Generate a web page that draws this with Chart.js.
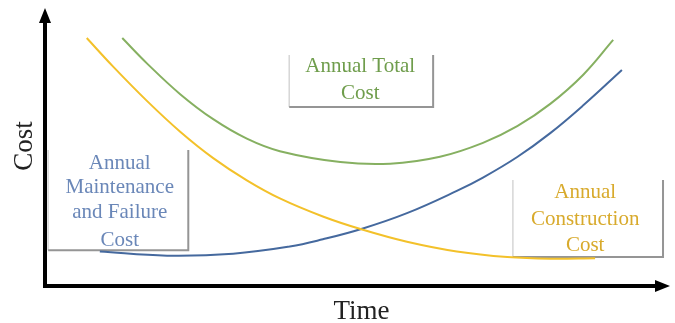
<!DOCTYPE html>
<html>
<head>
<meta charset="utf-8">
<script src="https://cdn.jsdelivr.net/npm/chart.js@4"></script>
<style>
  html, body { margin: 0; padding: 0; background: #fff; }
  #wrap { width: 675px; height: 323px; }
</style>
</head>
<body>
<div id="wrap"><canvas id="cost-chart" width="675" height="323"></canvas></div>
<script>
// Life-cycle cost curves (time and cost in relative units, 0-100)
const constructionTime = [6.7, 10.9, 16.4, 21.7, 27.0, 32.4, 37.7, 44.6, 50.9, 58.1, 66.1, 74.2, 81.1, 88.3];
const constructionCost = [89.2, 79.0, 66.5, 55.5, 46.0, 38.0, 31.5, 25.0, 20.3, 15.9, 12.4, 10.4, 9.8, 10.0];

const maintenanceTime = [8.8, 19.6, 30.2, 39.3, 44.6, 50.9, 58.1, 66.1, 70.3, 75.8, 81.1, 86.4, 92.6];
const maintenanceCost = [12.4, 10.9, 11.6, 14.2, 16.8, 20.6, 26.2, 34.2, 39.0, 46.4, 55.0, 65.0, 77.7];

const totalTime = [12.4, 16.4, 21.7, 27.0, 32.4, 37.7, 47.4, 55.4, 63.4, 70.3, 75.8, 81.1, 86.4, 91.2];
const totalCost = [89.2, 80.0, 69.0, 60.0, 53.0, 48.5, 44.6, 44.0, 46.5, 51.5, 57.5, 65.5, 76.0, 88.5];

const axisTitles = { x: 'Time', y: 'Cost' };

const toPoints = (xs, ys) => xs.map((x, i) => ({ x: x, y: ys[i] }));

const SERIF = '"Liberation Serif", "DejaVu Serif", serif';

// Callout boxes, placed in data units
const callouts = [
  {
    lines: ['Annual Total', 'Cost'], color: '#6f9d4c',
    box: { x0: 39.2, x1: 62.3, y0: 83.1, y1: 64.4 },
    text: { x: 50.6, y: [79.0, 69.3] }
  },
  {
    lines: ['Annual', 'Maintenance', 'and Failure', 'Cost'], color: '#6a87b8',
    box: { x0: 0.5, x1: 23.0, y0: 48.9, y1: 12.9 },
    text: { x: 12.0, y: [44.2, 35.6, 26.3, 16.5] }
  },
  {
    lines: ['Annual', 'Construction', 'Cost'], color: '#d8aa2c',
    box: { x0: 75.1, x1: 99.2, y0: 38.1, y1: 10.4 },
    text: { x: 86.7, y: [33.8, 24.1, 14.4] }
  }
];

const calloutPlugin = {
  id: 'callouts',
  beforeDatasetsDraw(chart) {
    const { ctx, scales: { x, y } } = chart;
    ctx.save();
    callouts.forEach(c => {
      const l = x.getPixelForValue(c.box.x0), r = x.getPixelForValue(c.box.x1);
      const t = y.getPixelForValue(c.box.y0), b = y.getPixelForValue(c.box.y1);
      ctx.fillStyle = '#ffffff';
      ctx.fillRect(l, t, r - l, b - t);
      // light left edge, darker right and bottom edges
      ctx.lineWidth = 1.5;
      ctx.strokeStyle = '#d6d6d6';
      ctx.beginPath(); ctx.moveTo(l, t); ctx.lineTo(l, b); ctx.stroke();
      ctx.lineWidth = 2;
      ctx.strokeStyle = '#959595';
      ctx.beginPath(); ctx.moveTo(r, t); ctx.lineTo(r, b); ctx.lineTo(l, b); ctx.stroke();

      ctx.fillStyle = c.color;
      ctx.font = '21px ' + SERIF;
      ctx.textAlign = 'center';
      ctx.textBaseline = 'middle';
      c.lines.forEach((line, i) => {
        ctx.fillText(line, x.getPixelForValue(c.text.x), y.getPixelForValue(c.text.y[i]));
      });
    });
    ctx.restore();
  }
};

// Black axes with arrowheads and the axis titles
const arrowAxesPlugin = {
  id: 'arrowAxes',
  afterDraw(chart) {
    const { ctx, chartArea: a } = chart;
    ctx.save();
    ctx.strokeStyle = '#000';
    ctx.fillStyle = '#000';
    ctx.lineWidth = 4;
    ctx.lineCap = 'butt';
    ctx.beginPath();
    ctx.moveTo(a.left, a.top + 12);
    ctx.lineTo(a.left, a.bottom);
    ctx.lineTo(a.right - 12, a.bottom);
    ctx.stroke();

    ctx.beginPath();
    ctx.moveTo(a.left, a.top);
    ctx.lineTo(a.left - 6, a.top + 15);
    ctx.lineTo(a.left + 6, a.top + 15);
    ctx.closePath();
    ctx.fill();

    ctx.beginPath();
    ctx.moveTo(a.right + 2, a.bottom);
    ctx.lineTo(a.right - 13, a.bottom - 6);
    ctx.lineTo(a.right - 13, a.bottom + 6);
    ctx.closePath();
    ctx.fill();

    ctx.font = '27px ' + SERIF;
    ctx.textAlign = 'center';
    ctx.textBaseline = 'middle';
    ctx.fillStyle = '#222';
    ctx.fillText(axisTitles.x, (a.left + a.right) / 2 + 5, a.bottom + 26);

    ctx.translate(a.left - 20, 146);
    ctx.rotate(-Math.PI / 2);
    ctx.fillText(axisTitles.y, 0, 0);
    ctx.restore();
  }
};

new Chart(document.getElementById('cost-chart'), {
  type: 'line',
  data: {
    datasets: [
      {
        label: 'Annual Total Cost',
        data: toPoints(totalTime, totalCost),
        borderColor: '#86b061',
        borderWidth: 2
      },
      {
        label: 'Annual Construction Cost',
        data: toPoints(constructionTime, constructionCost),
        borderColor: '#f3c12a',
        borderWidth: 2
      },
      {
        label: 'Annual Maintenance and Failure Cost',
        data: toPoints(maintenanceTime, maintenanceCost),
        borderColor: '#45699e',
        borderWidth: 2
      }
    ]
  },
  options: {
    responsive: false,
    animation: false,
    layout: { padding: { left: 45, right: 7, top: 8, bottom: 37 } },
    elements: {
      point: { radius: 0 },
      line: { tension: 0.4, fill: false }
    },
    plugins: {
      legend: { display: false },
      tooltip: { enabled: false }
    },
    scales: {
      x: { type: 'linear', min: 0, max: 100, display: false },
      y: { min: 0, max: 100, display: false }
    }
  },
  plugins: [calloutPlugin, arrowAxesPlugin]
});
</script>
</body>
</html>
